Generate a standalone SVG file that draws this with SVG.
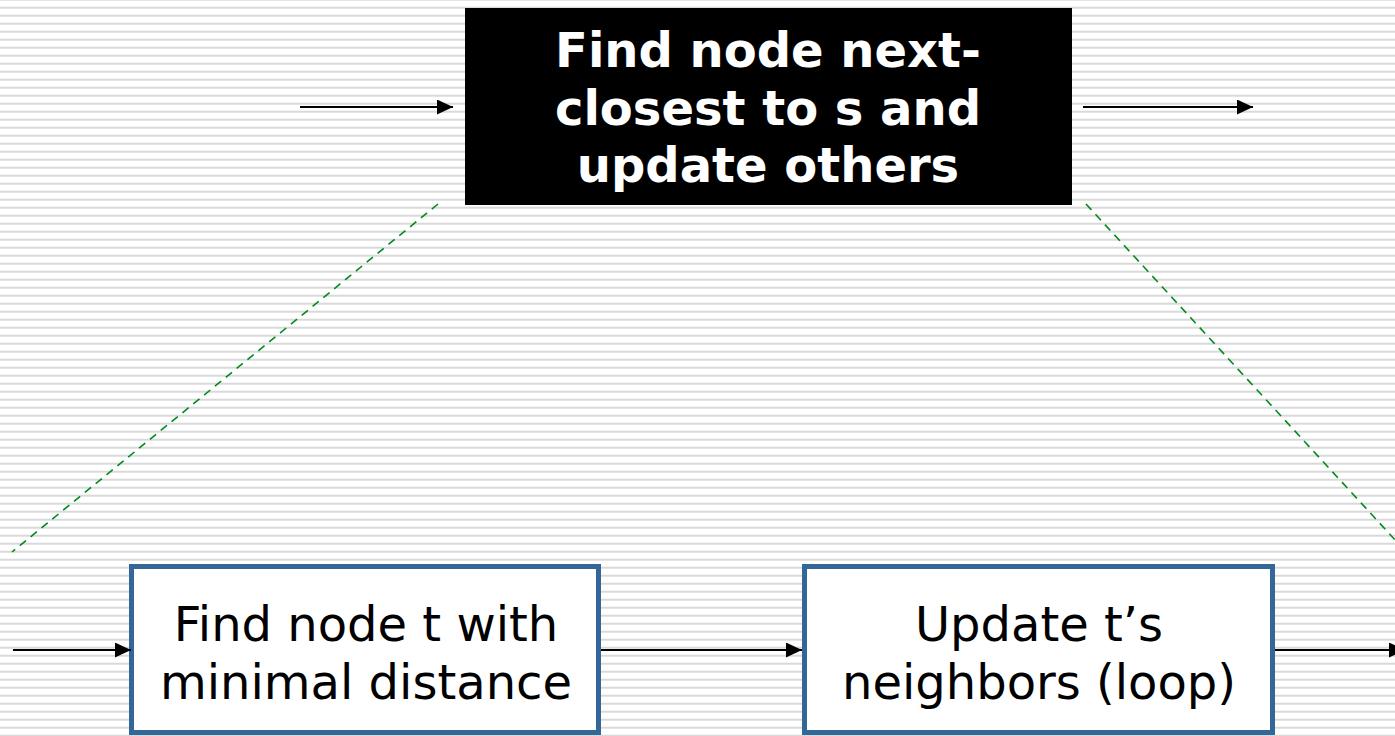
<svg xmlns="http://www.w3.org/2000/svg" width="1395" height="736" viewBox="0 0 1395 736">
  <defs>
    <!-- horizontal line texture for the slide background -->
    <pattern id="stripes" width="16" height="8" patternUnits="userSpaceOnUse" patternTransform="translate(0,-1.3)">
      <rect x="0" y="0" width="16" height="2" fill="#d9d9d9"/>
    </pattern>
    <marker id="arrow" markerUnits="userSpaceOnUse" markerWidth="16" markerHeight="15" refX="16" refY="7.5" orient="auto">
      <path d="M0,0 L16,7.5 L0,15 Z" fill="#000"/>
    </marker>
    <style>
      .flow { stroke: #000; stroke-width: 2; fill: none; marker-end: url(#arrow); }
      .zoom { stroke: #008a1e; stroke-width: 1.6; stroke-dasharray: 8 6; fill: none; }
      .step { fill: #fff; stroke: #346799; stroke-width: 5; }
      .label { font-family: "DejaVu Sans", Verdana, sans-serif; font-size: 48px; text-anchor: middle; }
      .bold { font-weight: bold; fill: #fff; }
    </style>
  </defs>

  <rect width="1395" height="736" fill="#fff"/>
  <rect width="1395" height="736" fill="url(#stripes)"/>

  <!-- summary step -->
  <g id="summary">
    <rect x="465" y="8" width="607" height="197" fill="#000"/>
    <text class="label bold" x="768" y="67">Find node next-</text>
    <text class="label bold" x="768" y="125">closest to s and</text>
    <text class="label bold" x="768" y="182">update others</text>
  </g>

  <!-- detailed steps -->
  <g id="find-min">
    <rect class="step" x="131.5" y="566.5" width="467" height="166"/>
    <text class="label" x="366" y="641">Find node t with</text>
    <text class="label" x="366" y="699">minimal distance</text>
  </g>

  <g id="update-neighbors">
    <rect class="step" x="804.5" y="566.5" width="468" height="166"/>
    <text class="label" x="1039" y="641">Update t’s</text>
    <text class="label" x="1039" y="699">neighbors (loop)</text>
  </g>

  <g id="connectors">
    <line class="flow" x1="300" y1="107" x2="453" y2="107"/>
    <line class="flow" x1="1083" y1="107" x2="1253" y2="107"/>
    <line class="flow" x1="13" y1="650" x2="131" y2="650"/>
    <line class="flow" x1="601" y1="650" x2="802" y2="650"/>
    <line class="flow" x1="1275" y1="650" x2="1405" y2="650"/>
    <!-- expansion guides -->
    <line class="zoom" x1="438" y1="204" x2="12" y2="552"/>
    <line class="zoom" x1="1086" y1="204" x2="1420" y2="567"/>
  </g>
</svg>
